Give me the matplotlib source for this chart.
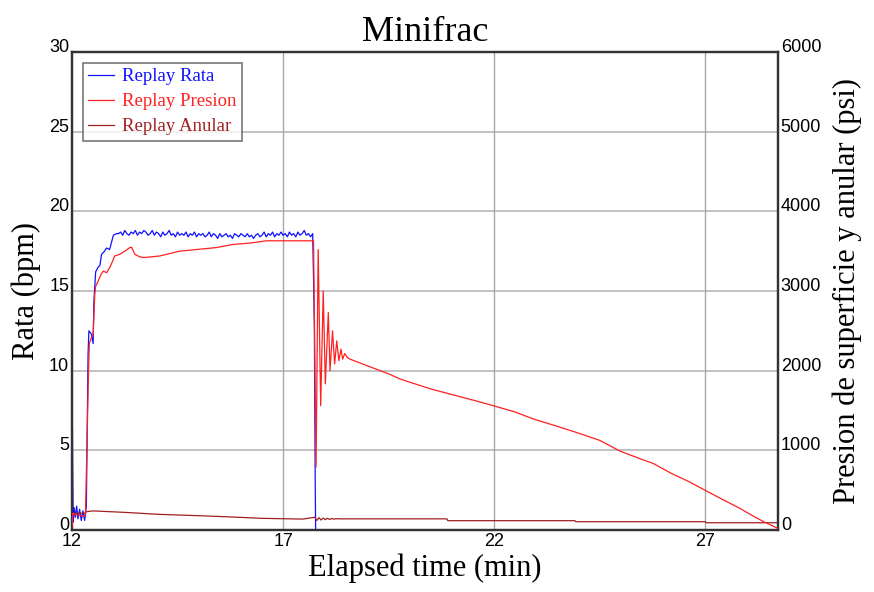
import numpy as np
import matplotlib
matplotlib.use("Agg")
import matplotlib.pyplot as plt

# ---------------- data ----------------
rate_t_start = [12.00, 12.01, 12.02, 12.03, 12.05, 12.08, 12.11, 12.14, 12.18, 12.22,
                12.26, 12.30, 12.34, 12.38, 12.40, 12.46, 12.50, 12.52, 12.56, 12.62,
                12.66, 12.70, 12.77, 12.82, 12.89, 12.98, 13.05]
rate_v_start = [0.0, 6.4, 2.8, 0.5, 1.4, 0.8, 1.5, 0.7, 1.3, 0.6,
                1.2, 0.6, 1.5, 11.0, 12.5, 12.3, 11.7, 14.4, 16.2, 16.5,
                16.6, 17.3, 17.5, 17.7, 17.6, 18.5, 18.6]
rate_flat = [18.6, 18.7, 18.5, 18.8, 18.6, 18.5, 18.7, 18.6, 18.8, 18.5, 18.7, 18.6, 18.8, 18.7, 18.5, 18.6, 18.8, 18.5, 18.7, 18.6,
             18.4, 18.7, 18.5, 18.6, 18.8, 18.5, 18.6, 18.4, 18.7, 18.5, 18.6, 18.5, 18.7, 18.4, 18.6, 18.5, 18.7, 18.4, 18.6, 18.5,
             18.6, 18.4, 18.5, 18.7, 18.4, 18.6, 18.5, 18.3, 18.6, 18.4, 18.5, 18.6, 18.4, 18.5, 18.3, 18.6, 18.5, 18.4, 18.6, 18.5,
             18.4, 18.6, 18.4, 18.5, 18.3, 18.5, 18.6, 18.4, 18.5, 18.7, 18.4, 18.6, 18.5, 18.7, 18.4, 18.6, 18.5, 18.7, 18.5, 18.6,
             18.4, 18.7, 18.5, 18.6, 18.4, 18.7, 18.5, 18.6, 18.8, 18.5, 18.6, 18.4, 18.6]
rate_flat_t0, rate_flat_dt = 13.10, 0.05
rate_t_end = [17.72, 17.74, 17.76, 17.77, 28.72]
rate_v_end = [15.8, 12.7, 3.0, 0.0, 0.0]

pres_t = [12.00, 12.02, 12.03, 12.30, 12.32, 12.39, 12.41, 12.46, 12.50, 12.54,
          12.56, 12.62, 12.68, 12.74, 12.82, 12.89, 12.95, 13.01, 13.13, 13.25,
          13.37, 13.41, 13.49, 13.60, 13.69, 13.90, 14.08, 14.24, 14.55, 15.03,
          15.42, 15.82, 16.20, 16.60, 17.00, 17.40, 17.72, 17.78, 17.83, 17.89,
          17.95, 18.00, 18.07, 18.11, 18.17, 18.22, 18.27, 18.32, 18.37, 18.41,
          18.46, 18.52, 18.58, 19.00, 19.50, 19.77, 20.00, 20.50, 21.00, 21.50,
          21.98, 22.50, 22.92, 23.50, 24.00, 24.50, 24.98, 25.45, 25.77, 26.20,
          26.60, 26.99, 27.40, 27.82, 28.10, 28.38, 28.72]
pres_v = [40, 210, 200, 170, 220, 1960, 2340, 2415, 2450, 2960,
          3060, 3125, 3200, 3250, 3230, 3290, 3360, 3440, 3460, 3500,
          3545, 3550, 3460, 3430, 3420, 3430, 3440, 3460, 3500, 3525,
          3545, 3585, 3600, 3630, 3630, 3630, 3630, 790, 3520, 1560,
          3000, 1835, 2730, 2000, 2500, 2085, 2375, 2125, 2270, 2145,
          2215, 2165, 2145, 2060, 1960, 1895, 1855, 1770, 1700, 1630,
          1560, 1480, 1395, 1300, 1215, 1125, 990, 895, 834, 709,
          610, 500, 385, 271, 185, 104, 20]

ann_t = [12.00, 12.30, 12.34, 12.50, 13.29, 14.08, 15.03, 15.66, 16.53, 17.47,
         17.75, 17.80, 17.85, 17.90, 17.95, 18.00, 18.05, 18.10, 18.15, 18.20,
         18.25, 18.30, 20.88, 20.90, 23.91, 23.93, 27.00, 27.02, 28.72]
ann_v = [210, 210, 229, 240, 220, 196, 179, 166, 146, 137,
         160, 120, 155, 125, 150, 130, 148, 132, 145, 135,
         143, 140, 140, 117, 117, 104, 104, 91, 91]

x_ticks = [12, 17, 22, 27]
y_left_ticks = [0, 5, 10, 15, 20, 25, 30]
y_right_ticks = [0, 1000, 2000, 3000, 4000, 5000, 6000]

title = "Minifrac"
xlabel = "Elapsed time (min)"
ylabel_left = "Rata (bpm)"
ylabel_right = "Presion de superficie y anular (psi)"
labels = ["Replay Rata", "Replay Presion", "Replay Anular"]

# ---------------- build ----------------
rate_flat_t = [rate_flat_t0 + i * rate_flat_dt for i in range(len(rate_flat))]
rate_t = rate_t_start + rate_flat_t + rate_t_end
rate_v = rate_v_start + rate_flat + rate_v_end

SERIF = "Liberation Serif"
SANS = "Liberation Sans"
C_RATE = "#1010ff"
C_PRES = "#ff2020"
C_ANN = "#a02020"
SPINE = "#333333"

fig = plt.figure(figsize=(8.74, 5.92), dpi=100)
ax = fig.add_axes([72/874, 1 - 530/592, 706/874, 478/592])
ax2 = ax.twinx()

ax.set_xlim(12, 28.72)
ax.set_ylim(0, 30)
ax2.set_ylim(0, 6000)

# grid
for y in y_left_ticks[1:-1]:
    ax.axhline(y, color="#bdbdbd", lw=1.3, zorder=0)
for x in x_ticks[1:]:
    ax.axvline(x, color="#a8a8a8", lw=1.0, zorder=0)

l1, = ax.plot(rate_t, rate_v, color=C_RATE, lw=0.9, zorder=3)
l2, = ax2.plot(pres_t, pres_v, color=C_PRES, lw=0.9, zorder=3)
l3, = ax2.plot(ann_t, ann_v, color=C_ANN, lw=0.9, zorder=2)

ax.set_xticks(x_ticks)
ax.set_yticks(y_left_ticks)
ax2.set_yticks(y_right_ticks)
for a in (ax, ax2):
    a.tick_params(length=0, pad=2, labelsize=13)
    for lab in a.get_xticklabels() + a.get_yticklabels():
        lab.set_fontfamily(SANS)
    for lab in a.get_yticklabels():
        lab.set_verticalalignment("baseline")
    for s in a.spines.values():
        s.set_color(SPINE)
        s.set_linewidth(1.6)

ax.set_title(title, fontfamily=SERIF, fontsize=26, pad=8)
ax.set_xlabel(xlabel, fontfamily=SERIF, fontsize=22, labelpad=3)
ax.set_ylabel(ylabel_left, fontfamily=SERIF, fontsize=22, labelpad=6)
ax2.set_ylabel(ylabel_right, fontfamily=SERIF, fontsize=22, labelpad=8)

leg = ax2.legend([l1, l2, l3], labels, loc="upper left",
                 bbox_to_anchor=(0.015, 0.978), prop={"family": SERIF, "size": 13.5},
                 frameon=True, fancybox=False, handlelength=1.4, handletextpad=0.4,
                 labelspacing=0.42, borderpad=0.3, borderaxespad=0)
leg.get_frame().set_edgecolor("#555555")
leg.get_frame().set_linewidth(1.2)
for txt, c in zip(leg.get_texts(), [C_RATE, C_PRES, C_ANN]):
    txt.set_color(c)

fig.savefig("out.png", dpi=100)
